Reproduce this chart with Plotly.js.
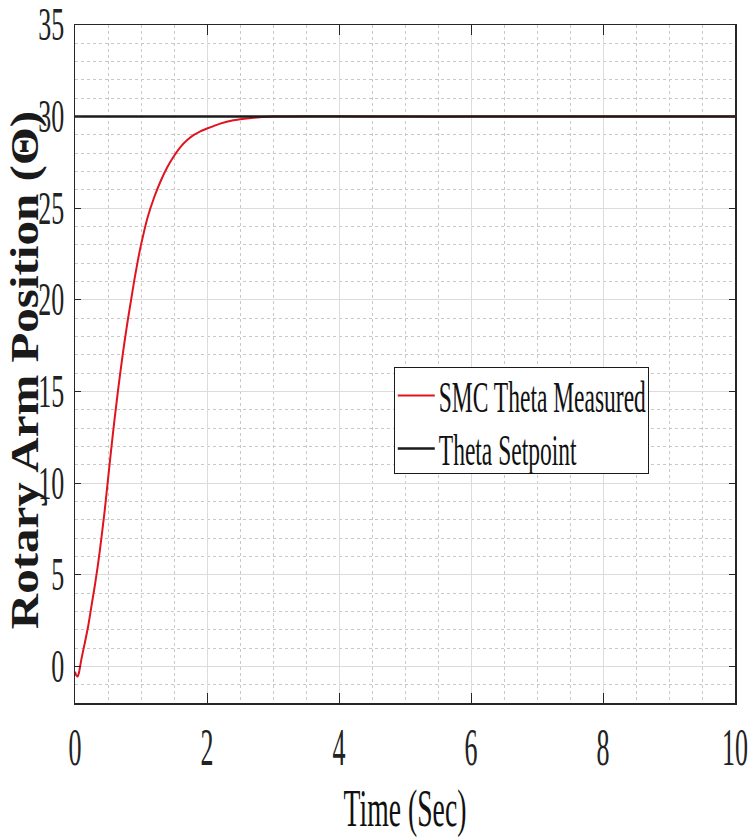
<!DOCTYPE html>
<html>
<head>
<meta charset="utf-8">
<script src="https://cdn.plot.ly/plotly-3.0.1.min.js"></script>
<style>
  html, body { margin: 0; padding: 0; background: #ffffff; }
  #chart { width: 750px; height: 839px; }
</style>
</head>
<body>
<div id="chart"></div>
<script>
// Rotary arm response under sliding mode control (SMC)
const timeSec = [0, 0.02, 0.04, 0.06, 0.08, 0.10, 0.15, 0.20, 0.25, 0.30, 0.35, 0.40, 0.45,
                 0.50, 0.55, 0.60, 0.65, 0.70, 0.75, 0.80, 0.85, 0.90, 0.95, 1.00, 1.10, 1.20,
                 1.30, 1.40, 1.50, 1.60, 1.70, 1.80, 1.90, 2.00, 2.20, 2.40, 2.60, 2.80, 3.00,
                 3.50, 4.00, 5.00, 6.00, 8.00, 10.00];
const thetaMeasured = [-0.3, -0.5, -0.55, -0.35, 0.05, 0.45, 1.3, 2.2, 3.3, 4.4, 5.6, 7.0, 8.5,
                       10.2, 11.9, 13.5, 15.0, 16.4, 17.7, 18.9, 20.0, 21.1, 22.1, 23.0, 24.5, 25.6,
                       26.5, 27.25, 27.85, 28.35, 28.72, 29.0, 29.2, 29.35, 29.62, 29.8, 29.9, 29.97, 30.0,
                       30.02, 30.02, 30.0, 30.0, 30.0, 30.0];
const setpointTime = [0, 10];
const setpointTheta = [30, 30];

const xTickVals = [0, 2, 4, 6, 8, 10];
const yTickVals = [0, 5, 10, 15, 20, 25, 30, 35];

const seriesNames = ['SMC Theta Measured', 'Theta Setpoint'];
const xTitle = 'Time (Sec)';
const yTitle = 'Rotary Arm Position (\u0398)';

const serif = 'Liberation Serif, Times New Roman, serif';
const gridMajor = '#dcdcdc';
const gridMinor = '#c8c8c8';
const axisColor = '#262626';

const traces = [
  {
    x: timeSec, y: thetaMeasured, name: seriesNames[0],
    type: 'scatter', mode: 'lines',
    line: { color: '#e0141e', width: 2, shape: 'spline', smoothing: 0.6 }
  },
  {
    x: setpointTime, y: setpointTheta, name: seriesNames[1],
    type: 'scatter', mode: 'lines',
    line: { color: '#1a1a1a', width: 2.5 }
  }
];

const layout = {
  width: 750, height: 839,
  margin: { l: 75, r: 15, t: 25, b: 136 },
  paper_bgcolor: '#ffffff',
  plot_bgcolor: '#ffffff',
  showlegend: true,
  legend: {
    x: 0.483, y: 0.4956, xanchor: 'left', yanchor: 'top',
    bgcolor: '#ffffff', bordercolor: '#1a1a1a', borderwidth: 1,
    font: { family: serif, size: 23.5, color: '#111111' }
  },
  xaxis: {
    range: [0, 10],
    tickvals: xTickVals,
    ticks: 'inside', ticklen: 10, tickwidth: 1, tickcolor: axisColor,
    showline: true, linecolor: axisColor, linewidth: 1.5, mirror: 'ticks',
    showgrid: true, gridcolor: gridMajor, gridwidth: 1,
    zeroline: false,
    tickfont: { family: serif, size: 26, color: '#222222' },
    ticklabelstandoff: 21,
    minor: { dtick: 0.5, showgrid: true, gridcolor: gridMinor, griddash: 'dot', gridwidth: 1, ticks: '' },
    title: { text: xTitle, font: { family: serif, size: 27.7, color: '#111111' }, standoff: 30 }
  },
  yaxis: {
    range: [-2, 35],
    tickvals: yTickVals,
    ticks: 'inside', ticklen: 6, tickwidth: 1, tickcolor: axisColor,
    showline: true, linecolor: axisColor, linewidth: 1.5, mirror: 'ticks',
    showgrid: true, gridcolor: gridMajor, gridwidth: 1,
    zeroline: false,
    tickfont: { family: serif, size: 26, color: '#222222' },
    ticklabelstandoff: 4,
    minor: { dtick: 1, showgrid: true, gridcolor: gridMinor, griddash: 'dot', gridwidth: 1, ticks: '' },
    title: { text: '<b>' + yTitle + '</b>', font: { family: serif, size: 49, color: '#1a1a1a' }, standoff: 6 }
  }
};

// Scale a text element about the centre of its box (tall, narrow lettering);
// optionally move that centre to page position (tx, ty).
function fitText(el, sx, sy, tx, ty) {
  const ns = 'http://www.w3.org/2000/svg';
  const g = document.createElementNS(ns, 'g');
  el.parentNode.insertBefore(g, el);
  g.appendChild(el);
  const b = g.getBBox();
  const cx = b.x + b.width / 2, cy = b.y + b.height / 2;
  const scaled = 'translate(' + cx + ',' + cy + ') scale(' + sx + ',' + sy + ') translate(' + (-cx) + ',' + (-cy) + ')';
  g.setAttribute('transform', scaled);
  if (tx != null || ty != null) {
    const r = g.getBoundingClientRect();
    const dx = (tx == null) ? 0 : tx - (r.left + r.width / 2);
    const dy = (ty == null) ? 0 : ty - (r.top + r.height / 2);
    g.setAttribute('transform', 'translate(' + dx + ',' + dy + ') ' + scaled);
  }
}

// Taller legend rows with longer line samples
function tidyLegend(gd) {
  const leg = gd.querySelector('g.legend');
  if (!leg) return;
  const bg = leg.querySelector('rect.bg');
  const box = leg.querySelector('g.scrollbox');
  if (box) box.removeAttribute('clip-path');
  const bgY = bg ? parseFloat(bg.getAttribute('y') || 0) : 0;
  const rowCentres = [28, 81];
  const items = leg.querySelectorAll('g.traces');
  items.forEach(function (it, i) {
    const m = /translate\(([-\d.e]+)[ ,]*([-\d.e]+)?\)/.exec(it.getAttribute('transform') || '');
    const tx = m ? parseFloat(m[1]) : 0;
    it.setAttribute('transform', 'translate(' + tx + ',' + (bgY + rowCentres[i]) + ')');
    it.querySelectorAll('path.js-line').forEach(function (p) { p.setAttribute('d', 'M3,0h37'); });
  });
  if (bg) bg.setAttribute('height', 106);
  leg.querySelectorAll('text.legendtext').forEach(function (t) {
    const x = parseFloat(t.getAttribute('x') || 0);
    t.setAttribute('x', x + 4);
    fitText(t, 1, 1.92);
  });
}

Plotly.newPlot('chart', traces, layout, { displayModeBar: false, staticPlot: true }).then(function (gd) {
  gd.querySelectorAll('.xtick text').forEach(function (t) { fitText(t, 1, 2.0); });
  gd.querySelectorAll('.ytick text').forEach(function (t) { fitText(t, 1, 1.75); });
  gd.querySelectorAll('.g-xtitle text').forEach(function (t) { fitText(t, 1, 1.9, 405, 809); });
  gd.querySelectorAll('.g-ytitle text').forEach(function (t) { fitText(t, 0.8, 1, 24.5, 370); });
  tidyLegend(gd);
});
</script>
</body>
</html>
